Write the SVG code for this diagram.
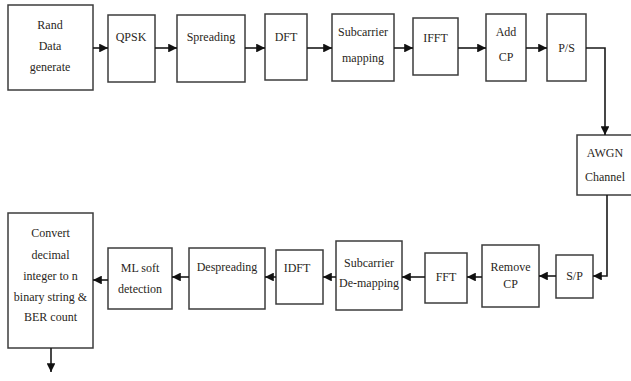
<svg xmlns="http://www.w3.org/2000/svg" width="631" height="381" viewBox="0 0 631 381">
<style>
.b{fill:#fff;stroke:#3c3c3c;stroke-width:1.5}
.t{font-family:"Liberation Serif","Times New Roman","DejaVu Serif",serif;font-size:12px;fill:#2a1f22;text-anchor:middle}
.c{fill:none;stroke:#1a1a1a;stroke-width:1.6}
</style>
<defs>
<marker id="ah" viewBox="0 0 10 10" refX="10" refY="5" markerWidth="5.5" markerHeight="5.5" orient="auto" markerUnits="strokeWidth">
<path d="M0,0L10,5L0,10Z" fill="#111"/>
</marker>
</defs>
<rect width="631" height="381" fill="#fff"/>
<g id="rand"><rect class="b" x="8" y="5" width="85" height="85"/><text class="t" x="50" y="29">Rand</text><text class="t" x="50" y="50">Data</text><text class="t" x="50" y="71">generate</text></g>
<g id="qpsk"><rect class="b" x="108" y="15" width="47" height="67"/><text class="t" x="131" y="41">QPSK</text></g>
<g id="spreading"><rect class="b" x="177" y="15" width="68" height="67"/><text class="t" x="211" y="41">Spreading</text></g>
<g id="dft"><rect class="b" x="265" y="14" width="42" height="66"/><text class="t" x="286" y="41">DFT</text></g>
<g id="submap"><rect class="b" x="332" y="14" width="62" height="67"/><text class="t" x="363" y="36">Subcarrier</text><text class="t" x="363" y="62">mapping</text></g>
<g id="ifft"><rect class="b" x="413" y="18" width="45" height="57"/><text class="t" x="435.5" y="42">IFFT</text></g>
<g id="addcp"><rect class="b" x="486" y="14" width="40" height="67"/><text class="t" x="506" y="36">Add</text><text class="t" x="506" y="61">CP</text></g>
<g id="ps"><rect class="b" x="547" y="14" width="39" height="67"/><text class="t" x="566.5" y="52">P/S</text></g>
<g id="awgn"><rect class="b" x="577" y="135" width="56" height="60"/><text class="t" x="605" y="157">AWGN</text><text class="t" x="605" y="181">Channel</text></g>
<g id="sp"><rect class="b" x="556" y="255" width="37" height="43"/><text class="t" x="574.5" y="280">S/P</text></g>
<g id="removecp"><rect class="b" x="482" y="245" width="57" height="62"/><text class="t" x="510.5" y="271">Remove</text><text class="t" x="510.5" y="288">CP</text></g>
<g id="fft"><rect class="b" x="425" y="253" width="42" height="50"/><text class="t" x="446" y="281">FFT</text></g>
<g id="subdemap"><rect class="b" x="336" y="241" width="66" height="69"/><text class="t" x="369" y="267">Subcarrier</text><text class="t" x="369" y="287">De-mapping</text></g>
<g id="idft"><rect class="b" x="276" y="250" width="47" height="54"/><text class="t" x="297" y="272">IDFT</text></g>
<g id="despreading"><rect class="b" x="189" y="248" width="76" height="61"/><text class="t" x="227" y="271">Despreading</text></g>
<g id="ml"><rect class="b" x="108" y="248" width="64" height="61"/><text class="t" x="140" y="272">ML soft</text><text class="t" x="140" y="293">detection</text></g>
<g id="convert"><rect class="b" x="8" y="213" width="85" height="135"/><text class="t" x="50.5" y="237">Convert</text><text class="t" x="50.5" y="259">decimal</text><text class="t" x="50.5" y="280">integer to n</text><text class="t" x="50.5" y="301">binary string &amp;</text><text class="t" x="50.5" y="321">BER count</text></g>
<g id="connectors">
<path class="c" marker-end="url(#ah)" d="M93,48H108"/>
<path class="c" marker-end="url(#ah)" d="M155,48H177"/>
<path class="c" marker-end="url(#ah)" d="M245,48H265"/>
<path class="c" marker-end="url(#ah)" d="M307,48H332"/>
<path class="c" marker-end="url(#ah)" d="M394,48H413"/>
<path class="c" marker-end="url(#ah)" d="M458,48H486"/>
<path class="c" marker-end="url(#ah)" d="M526,48H547"/>
<path class="c" marker-end="url(#ah)" d="M586,48H605V135"/>
<path class="c" marker-end="url(#ah)" d="M607,195V276H593"/>
<path class="c" marker-end="url(#ah)" d="M556,276H539"/>
<path class="c" marker-end="url(#ah)" d="M482,277H467"/>
<path class="c" marker-end="url(#ah)" d="M425,277H402"/>
<path class="c" marker-end="url(#ah)" d="M336,277H323"/>
<path class="c" marker-end="url(#ah)" d="M276,277H265"/>
<path class="c" marker-end="url(#ah)" d="M189,277H172"/>
<path class="c" marker-end="url(#ah)" d="M108,280H93"/>
<path class="c" marker-end="url(#ah)" d="M51,348V372"/>
</g>
</svg>
